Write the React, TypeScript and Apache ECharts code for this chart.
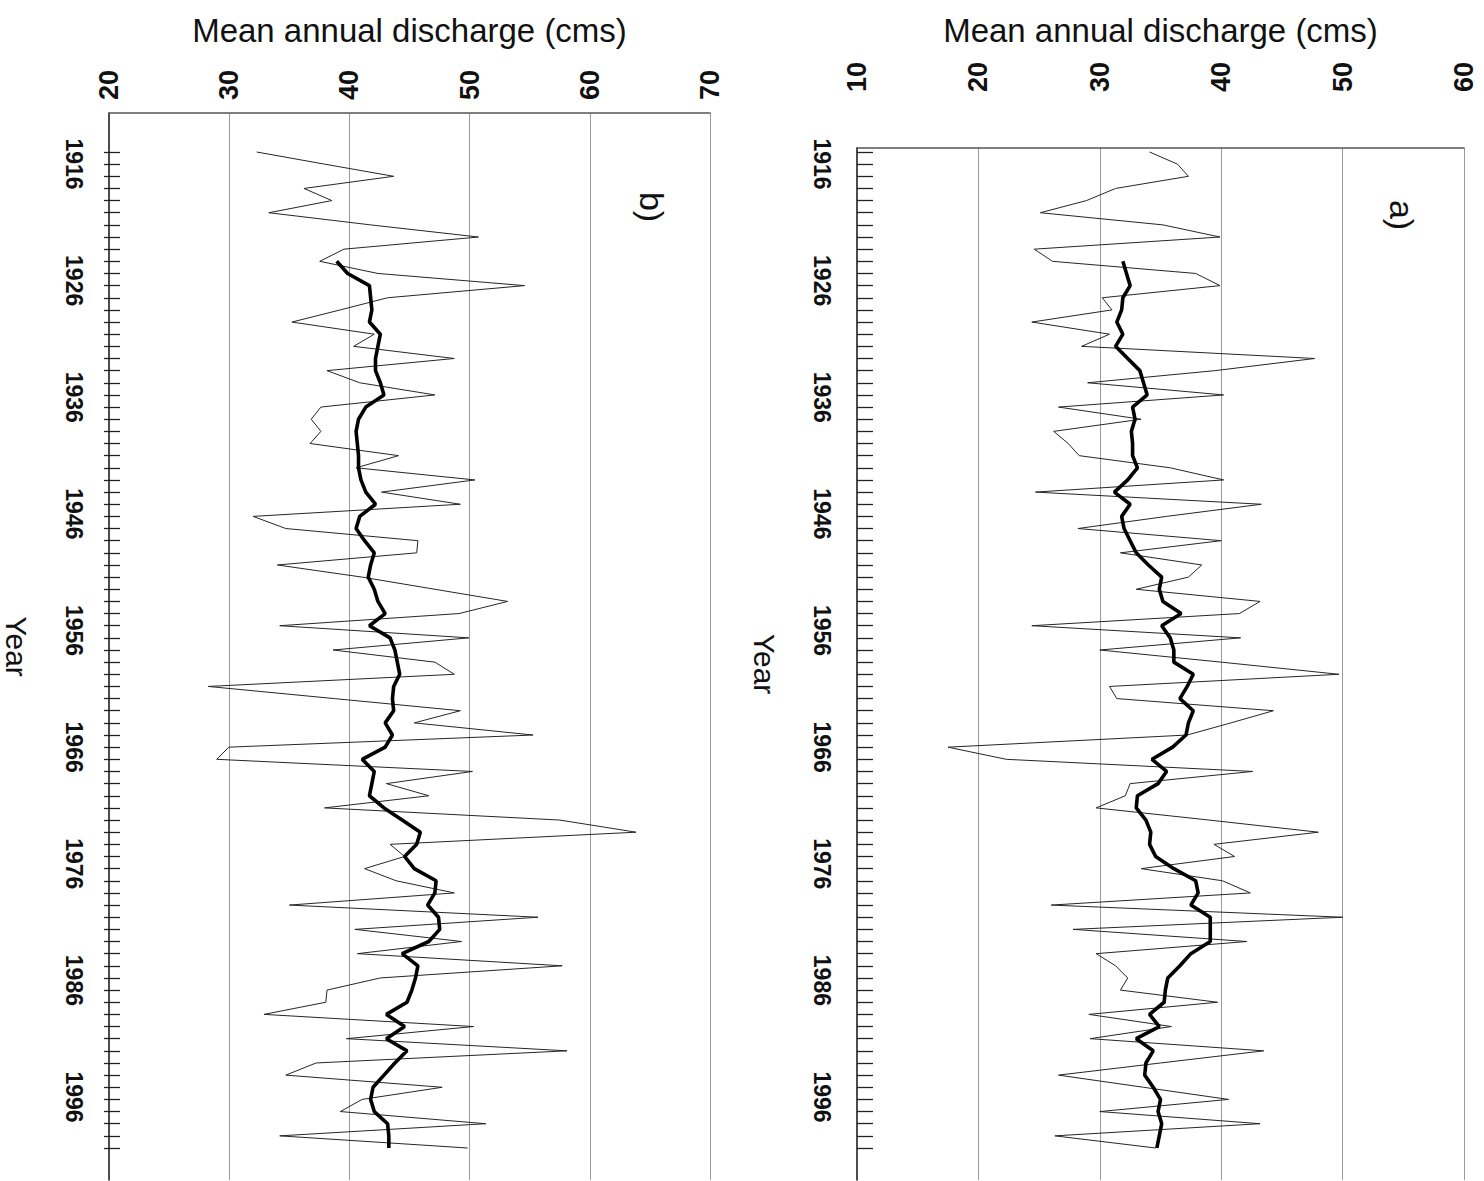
import React, { useEffect, useRef } from "react";
import * as echarts from "echarts";

// ---------------- data ----------------
const FIRST_YEAR = 1915;
const SMOOTH_START_YEAR = 1924; // 10-year running mean begins here

// a) annual series (cms), one value per year from 1915
const dischargeA = [
  34.1, 36.4, 37.3, 31.3, 28.9, 25.1, 35.2, 39.9, 24.6, 26.1,
  37.9, 39.9, 30.2, 31.0, 24.4, 30.8, 28.5, 47.7, 39.5, 29.0,
  40.2, 26.6, 33.4, 26.2, 27.4, 28.3, 35.8, 40.2, 24.7, 43.3,
  35.5, 28.2, 40.0, 31.7, 38.4, 37.3, 33.0, 43.2, 41.5, 24.4,
  41.6, 30.0, 40.0, 49.7, 30.8, 31.4, 44.3, 40.8, 37.2, 17.5,
  22.3, 42.6, 32.5, 32.1, 29.7, 39.0, 48.0, 39.4, 41.1, 33.4,
  40.1, 42.4, 26.0, 50.0, 27.8, 42.1, 29.7, 31.3, 32.3, 31.7,
  39.7, 29.1, 35.9, 29.2, 43.5, 35.0, 26.6, 33.6, 40.6, 30.0,
  43.2, 26.3, 34.6,
];

// a) smoothed series from 1924
const smoothA = [
  31.9, 32.2, 32.5, 31.9, 31.8, 31.4, 31.9, 31.3, 32.3, 33.3,
  33.6, 33.9, 32.7, 32.9, 32.6, 32.7, 32.7, 33.1, 32.3, 31.2,
  32.5, 31.8, 32.0, 32.5, 33.0, 34.0, 35.1, 34.9, 35.2, 36.7,
  35.1, 35.8, 36.1, 36.1, 37.7, 37.2, 36.6, 37.7, 37.3, 37.1,
  36.0, 34.3, 35.5, 34.8, 33.1, 33.0, 33.8, 34.2, 34.1, 34.6,
  36.1, 37.9, 38.1, 37.5, 39.1, 39.1, 39.1, 37.5, 36.6, 35.6,
  35.4, 35.3, 34.1, 34.9, 33.0, 34.4, 33.8, 33.7, 34.4, 35.0,
  34.8, 35.1, 34.9, 34.7,
];

// b) annual series (cms), one value per year from 1915
const dischargeB = [
  32.6, 38.2, 43.9, 36.5, 38.8, 33.6, 42.0, 50.9, 39.8, 37.8,
  42.6, 54.7, 43.4, 39.5, 35.5, 42.3, 40.6, 48.9, 38.4, 41.1,
  47.3, 37.9, 37.1, 37.9, 37.0, 44.3, 40.8, 50.6, 42.9, 49.4,
  32.3, 35.0, 45.9, 45.8, 34.3, 41.3, 47.3, 53.3, 49.3, 34.5,
  50.1, 38.9, 47.3, 48.9, 28.6, 39.0, 49.4, 45.6, 55.4, 30.3,
  29.3, 50.4, 43.3, 46.8, 38.2, 57.6, 63.9, 43.6, 44.8, 41.5,
  44.1, 48.9, 35.3, 55.8, 40.7, 49.5, 40.9, 57.8, 42.8, 38.4,
  38.3, 33.2, 50.5, 40.0, 58.2, 37.5, 35.0, 47.9, 41.3, 39.5,
  51.5, 34.5, 50.0,
];

// b) smoothed series from 1924
const smoothB = [
  39.2, 40.1, 41.9, 42.0, 42.1, 41.9, 42.8, 42.6, 42.4, 42.4,
  42.8, 43.1, 41.6, 41.0, 40.8, 40.9, 41.0, 41.0, 41.2, 41.6,
  42.4, 41.1, 40.8, 41.5, 42.3, 42.0, 41.8, 42.3, 42.6, 43.2,
  41.9, 43.6, 44.0, 44.2, 44.4, 43.9, 43.8, 43.9, 43.2, 43.8,
  43.2, 41.3, 42.3, 42.1, 41.9, 43.1, 44.6, 46.1, 45.8, 44.8,
  45.6, 47.4, 47.3, 46.7, 47.6, 47.7, 46.8, 44.6, 45.9, 45.7,
  45.4, 45.0, 43.3, 44.8, 43.3, 45.0, 44.0, 43.1, 42.2, 42.0,
  42.3, 43.4, 43.5, 43.5,
];

const yearLabels = [1916, 1926, 1936, 1946, 1956, 1966, 1976, 1986, 1996];
const rangeA = [10, 60];
const rangeB = [20, 70];
const AXIS_TITLE = "Mean annual discharge (cms)";
const YEAR_TITLE = "Year";

// ---------------- layout (px) ----------------
const FONT = "'Liberation Sans', Arial, Helvetica, sans-serif";
const DATA_TOP = 152;
const DATA_BOTTOM = 1148;
const FRAME_BOTTOM = 1180;
const LABEL_1916_Y = 164;
const LABEL_1996_Y = 1097;
const PX_PER_LABEL_YEAR = (LABEL_1996_Y - LABEL_1916_Y) / 80;

function toPairs(vals: number[], start: number) {
  return vals.map((v, i) => [v, start + i]);
}

function panel(opts: {
  idx: number;
  left: number;
  right: number;
  frameTop: number;
  range: number[];
  values: number[];
  smooth: number[];
  labelMargin: number;
  nameGap: number;
}) {
  const { idx, left, right, frameTop, range, values, smooth } = opts;
  const fIdx = idx * 2;
  const dIdx = idx * 2 + 1;
  const lastYear = FIRST_YEAR + values.length - 1;
  const labMin = yearLabels[0] - (LABEL_1916_Y - frameTop) / PX_PER_LABEL_YEAR;
  const labMax = yearLabels[0] + (FRAME_BOTTOM - LABEL_1916_Y) / PX_PER_LABEL_YEAR;

  const grids = [
    { left, width: right - left, top: frameTop, height: FRAME_BOTTOM - frameTop, show: false },
    { left, width: right - left, top: DATA_TOP, height: DATA_BOTTOM - DATA_TOP, show: false },
  ];
  const xAxes = [
    {
      type: "value",
      gridIndex: fIdx,
      position: "top",
      min: range[0],
      max: range[1],
      interval: 10,
      axisLine: { show: true, lineStyle: { color: "#555", width: 1.5 } },
      axisTick: { show: false },
      axisLabel: {
        rotate: -90,
        margin: opts.labelMargin,
        fontSize: 27,
        fontWeight: "bold",
        color: "#111",
        fontFamily: FONT,
      },
      splitLine: {
        show: true,
        showMinLine: false,
        showMaxLine: true,
        lineStyle: { color: "#9a9a9a", width: 1 },
      },
      name: AXIS_TITLE,
      nameLocation: "middle",
      nameGap: opts.nameGap,
      nameTextStyle: { fontSize: 33, color: "#111", fontFamily: FONT },
    },
    {
      type: "value",
      gridIndex: dIdx,
      min: range[0],
      max: range[1],
      show: false,
    },
  ];
  const yAxes = [
    {
      type: "value",
      gridIndex: fIdx,
      inverse: true,
      min: labMin,
      max: labMax,
      axisLine: { show: true, lineStyle: { color: "#111", width: 1.5 } },
      axisTick: { show: false },
      splitLine: { show: false },
      axisLabel: {
        customValues: yearLabels,
        formatter: (v: number) => String(Math.round(v)),
        rotate: -90,
        margin: 24,
        fontSize: 23,
        fontWeight: "bold",
        color: "#111",
        fontFamily: FONT,
      },
      name: YEAR_TITLE,
      nameLocation: "middle",
      nameRotate: -90,
      nameGap: 78,
      nameTextStyle: { fontSize: 30, color: "#111", fontFamily: FONT },
    },
    {
      type: "value",
      gridIndex: dIdx,
      inverse: true,
      min: FIRST_YEAR,
      max: lastYear,
      interval: 1,
      axisLine: { show: false },
      axisTick: { show: true, inside: true, length: 16, lineStyle: { color: "#222", width: 1.3 } },
      axisLabel: { show: false },
      splitLine: { show: false },
    },
  ];
  const series = [
    {
      type: "line",
      xAxisIndex: dIdx,
      yAxisIndex: dIdx,
      data: toPairs(values, FIRST_YEAR),
      symbol: "none",
      clip: false,
      lineStyle: { color: "#262626", width: 1 },
      z: 3,
    },
    {
      type: "line",
      xAxisIndex: dIdx,
      yAxisIndex: dIdx,
      data: toPairs(smooth, SMOOTH_START_YEAR),
      symbol: "none",
      clip: false,
      lineStyle: { color: "#000", width: 3.6 },
      z: 4,
    },
  ];
  return { grids, xAxes, yAxes, series };
}

export default function App() {
  const ref = useRef<HTMLDivElement>(null);
  useEffect(() => {
    if (!ref.current) return;
    const chart = echarts.init(ref.current, null, { renderer: "svg" });
    const pB = panel({
      idx: 0, left: 104, right: 710, frameTop: 113, range: rangeB,
      values: dischargeB, smooth: smoothB, labelMargin: 13, nameGap: 66,
    });
    const pA = panel({
      idx: 1, left: 857, right: 1464, frameTop: 148, range: rangeA,
      values: dischargeA, smooth: smoothA, labelMargin: 56, nameGap: 101,
    });
    chart.setOption({
      animation: false,
      backgroundColor: "#fff",
      grid: [...pB.grids, ...pA.grids],
      xAxis: [...pB.xAxes, ...pA.xAxes],
      yAxis: [...pB.yAxes, ...pA.yAxes],
      series: [...pB.series, ...pA.series],
      graphic: [
        {
          type: "text", x: 652, y: 207, rotation: -Math.PI / 2,
          style: { text: "b)", fontSize: 34, fontFamily: FONT, fill: "#111", textAlign: "center", textVerticalAlign: "middle" },
        },
        {
          type: "text", x: 1402, y: 215, rotation: -Math.PI / 2,
          style: { text: "a)", fontSize: 34, fontFamily: FONT, fill: "#111", textAlign: "center", textVerticalAlign: "middle" },
        },
      ],
    });
    return () => chart.dispose();
  }, []);
  return (
    <div
      ref={ref}
      style={{ position: "absolute", left: 0, top: 0, width: 1484, height: 1181, background: "#fff" }}
    />
  );
}
